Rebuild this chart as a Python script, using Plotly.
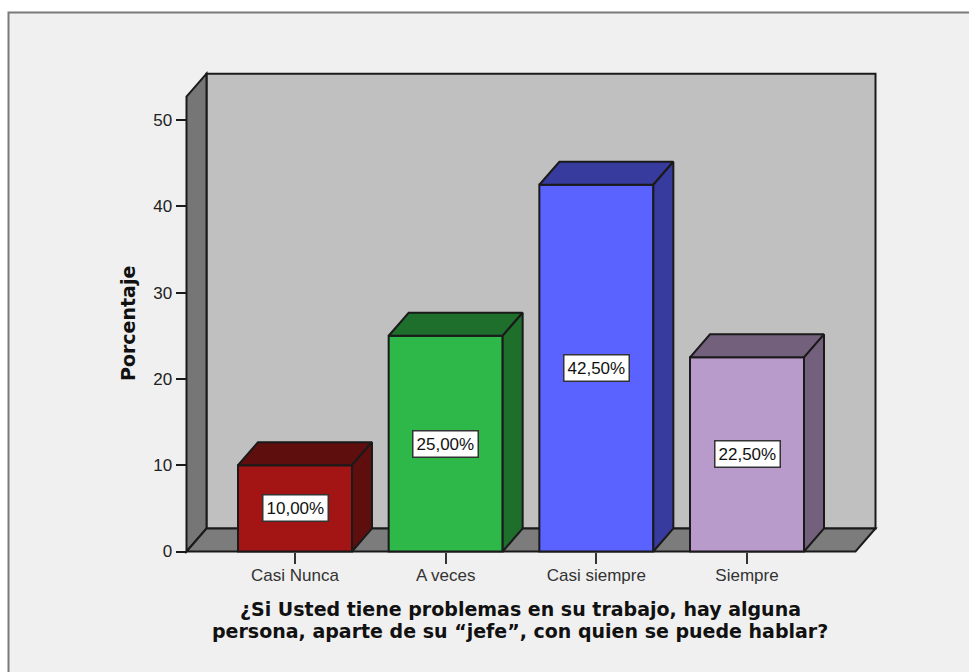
import plotly.graph_objects as go

# Survey results
categories = ["Casi Nunca", "A veces", "Casi siempre", "Siempre"]
percentages = [10.0, 25.0, 42.5, 22.5]
front_colors = ["#A31515", "#2EB84A", "#5A62FF", "#B89ACB"]
shade_colors = ["#5F0E0E", "#1E6E2C", "#373B9E", "#73607D"]
y_ticks = [0, 10, 20, 30, 40, 50]
title_lines = [
    "¿Si Usted tiene problemas en su trabajo, hay alguna",
    "persona, aparte de su “jefe”, con quien se puede hablar?",
]

# Canvas and scale set-up (pixels per data unit)
WIDTH, HEIGHT = 969, 672
PLOT_L, PLOT_R, PLOT_T, PLOT_B = 140, 890, 55, 560
PX_PER_CAT = 150.67
PX_PER_UNIT = 8.63
AXIS_X_PX, AXIS_Y_PX = 186.5, 551.5
FIRST_CAT_PX = 295

x_lo = (PLOT_L - FIRST_CAT_PX) / PX_PER_CAT
x_hi = (PLOT_R - FIRST_CAT_PX) / PX_PER_CAT
y_lo = (AXIS_Y_PX - PLOT_B) / PX_PER_UNIT
y_hi = (AXIS_Y_PX - PLOT_T) / PX_PER_UNIT

BAR_W = 114 / PX_PER_CAT
DX = 20 / PX_PER_CAT        # oblique depth, horizontally
DY = 23 / PX_PER_UNIT       # oblique depth, vertically
BOX_L = (AXIS_X_PX - FIRST_CAT_PX) / PX_PER_CAT
BOX_R = (855.5 - FIRST_CAT_PX) / PX_PER_CAT
BOX_TOP = 52.7

EDGE = dict(color="#1a1a1a", width=2)


def poly(points):
    return "M" + " L".join(f"{x},{y}" for x, y in points) + " Z"


def paper_x(px):
    return (px - PLOT_L) / (PLOT_R - PLOT_L)


def paper_y(px):
    return (PLOT_B - px) / (PLOT_B - PLOT_T)


shapes = [
    # Panel behind the chart
    dict(type="rect", xref="paper", yref="paper", layer="below",
         x0=paper_x(8.5), x1=paper_x(975), y0=paper_y(12.5), y1=paper_y(680),
         fillcolor="#F0F0F0", line=dict(color="#7A7A7A", width=2)),
    # Back wall
    dict(type="path", xref="x", yref="y", layer="below", fillcolor="#C0C0C0", line=EDGE,
         path=poly([(BOX_L + DX, DY), (BOX_R + DX, DY),
                    (BOX_R + DX, BOX_TOP + DY), (BOX_L + DX, BOX_TOP + DY)])),
    # Side wall
    dict(type="path", xref="x", yref="y", layer="below", fillcolor="#767676", line=EDGE,
         path=poly([(BOX_L, 0), (BOX_L + DX, DY),
                    (BOX_L + DX, BOX_TOP + DY), (BOX_L, BOX_TOP)])),
    # Floor
    dict(type="path", xref="x", yref="y", layer="below", fillcolor="#7C7C7C", line=EDGE,
         path=poly([(BOX_L, 0), (BOX_R, 0), (BOX_R + DX, DY), (BOX_L + DX, DY)])),
]

fig = go.Figure()

fig.add_trace(go.Bar(
    x=list(range(len(categories))), y=percentages, width=BAR_W,
    marker=dict(color=front_colors, line=EDGE),
    hoverinfo="skip", showlegend=False,
))

# Top and side faces of each column
for i, (value, shade) in enumerate(zip(percentages, shade_colors)):
    left, right = i - BAR_W / 2, i + BAR_W / 2
    fig.add_trace(go.Scatter(
        x=[left, left + DX, right + DX, right, left],
        y=[value, value + DY, value + DY, value, value],
        mode="lines", fill="toself", fillcolor=shade,
        line=EDGE, hoverinfo="skip", showlegend=False,
    ))
    fig.add_trace(go.Scatter(
        x=[right, right + DX, right + DX, right, right],
        y=[0, DY, value + DY, value, 0],
        mode="lines", fill="toself", fillcolor=shade,
        line=EDGE, hoverinfo="skip", showlegend=False,
    ))

annotations = [
    dict(x=i, y=v / 2, xref="x", yref="y", showarrow=False,
         text=f"{v:.2f}".replace(".", ",") + "%",
         font=dict(family="Liberation Sans", size=17, color="#111111"),
         bgcolor="#FFFFFF", bordercolor="#333333", borderwidth=1.5, borderpad=3)
    for i, v in enumerate(percentages)
]

# Two-line axis caption, placed line by line for tight leading
for line, y_px in zip(title_lines, [609, 631]):
    annotations.append(dict(
        x=paper_x(520), y=paper_y(y_px), xref="paper", yref="paper",
        xanchor="center", yanchor="middle",
        showarrow=False, text=f"<b>{line}</b>",
        font=dict(family="DejaVu Sans", size=19, color="#111111"),
    ))

annotations.append(dict(
    x=paper_x(128), y=paper_y(324), xref="paper", yref="paper",
    xanchor="center", yanchor="middle",
    showarrow=False, text="<b>Porcentaje</b>", textangle=-90,
    font=dict(family="DejaVu Sans", size=19, color="#111111"),
))

fig.update_layout(
    width=WIDTH, height=HEIGHT,
    margin=dict(l=PLOT_L, r=WIDTH - PLOT_R, t=PLOT_T, b=HEIGHT - PLOT_B, pad=0),
    paper_bgcolor="#FFFFFF", plot_bgcolor="rgba(0,0,0,0)",
    shapes=shapes, annotations=annotations, showlegend=False,
    xaxis=dict(
        range=[x_lo, x_hi], tickvals=list(range(len(categories))), ticktext=categories,
        anchor="free", position=(-y_lo) / (y_hi - y_lo),
        showgrid=False, zeroline=False, showline=False,
        ticks="outside", ticklen=11, tickwidth=2, tickcolor="#333333",
        ticklabelstandoff=-3,
        tickfont=dict(family="Liberation Sans", size=17, color="#333333"),
    ),
    yaxis=dict(
        range=[y_lo, y_hi], tickvals=y_ticks,
        anchor="free", position=(AXIS_X_PX - PLOT_L) / (PLOT_R - PLOT_L),
        showgrid=False, zeroline=False, showline=False,
        ticks="outside", ticklen=11, tickwidth=2, tickcolor="#1a1a1a",
        tickfont=dict(family="Liberation Sans", size=17, color="#222222"),
    ),
)

fig.write_html("out.html", config=dict(displayModeBar=False))
